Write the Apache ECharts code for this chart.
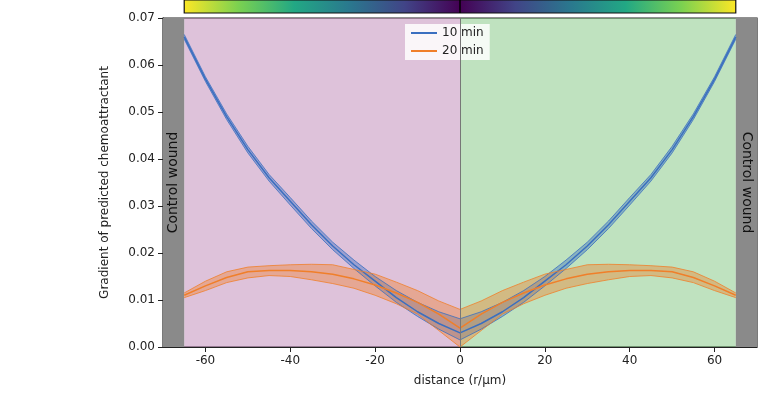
<!DOCTYPE html>
<html><head><meta charset="utf-8">
<script src="https://cdn.jsdelivr.net/npm/echarts@6/dist/echarts.min.js"></script>
<style>body{margin:0}#c{width:783px;height:400px}</style></head>
<body><div id="c"></div>
<script>
// half-profile, |x| = 0..65 step 5 (profiles are symmetric about 0)
const halfX = [0,5,10,15,20,25,30,35,40,45,50,55,60,65];
const blueMean = [0.003,0.005,0.0075,0.0105,0.014,0.0175,0.0215,0.026,0.031,0.036,0.042,0.049,0.057,0.066];
const blueLow  = [0.0015,0.0038,0.0065,0.0095,0.013,0.0167,0.0207,0.0252,0.0302,0.0353,0.0413,0.0484,0.0565,0.0655];
const blueHigh = [0.006,0.0075,0.0095,0.012,0.015,0.0185,0.0223,0.0268,0.0318,0.0367,0.0427,0.0496,0.0575,0.0665];
const orMean = [0.004,0.007,0.0095,0.0115,0.0132,0.0145,0.0155,0.016,0.0163,0.0163,0.016,0.0148,0.013,0.011];
const orLow  = [0.0,0.0035,0.007,0.0092,0.011,0.0125,0.0135,0.0143,0.015,0.0152,0.0147,0.0137,0.012,0.0105];
const orHigh = [0.008,0.0098,0.012,0.0138,0.0155,0.0165,0.0175,0.0176,0.0175,0.0173,0.017,0.016,0.014,0.0115];
const xTicks = [-60,-40,-20,0,20,40,60];

function full(h){ const l=h.slice(1).reverse(); return l.concat(h); }
const xs = full(halfX).map((v,i)=> i<halfX.length-1 ? -v : v);
function pts(h){ const f=full(h); return xs.map((x,i)=>[x,f[i]]); }

const chart = echarts.init(document.getElementById('c'));
const blueC='#3a6fc0', orC='#f07f2a';
function band(low,high,color){
  const lo=pts(low), hi=pts(high);
  return {type:'custom',silent:true,z:3,data:[0],renderItem:(params,api)=>{
    const poly=lo.map(p=>api.coord(p)).concat(hi.slice().reverse().map(p=>api.coord(p)));
    return {type:'polygon',shape:{points:poly},style:{fill:color,opacity:0.4}};
  }};
}
function ln(name,h,color,w){return {name:name,type:'line',data:pts(h),symbol:'none',lineStyle:{color:color,width:w},itemStyle:{color:color},z:4};}
const viridis=[[0,'#fde725'],[0.1,'#7ad151'],[0.2,'#22a884'],[0.3,'#2a788e'],[0.4,'#414487'],[0.5,'#440154'],[0.6,'#414487'],[0.7,'#2a788e'],[0.8,'#22a884'],[0.9,'#7ad151'],[1,'#fde725']];
chart.setOption({
  animation:false,
  grid:[{left:163,right:26,top:18,bottom:53,show:true,borderColor:'#222',borderWidth:1.2},
        {left:163,right:26,top:0,height:13}],
  legend:{data:['10 min','20 min'],orient:'vertical',left:405,top:24,itemWidth:26,itemHeight:2,itemGap:6,
    backgroundColor:'rgba(255,255,255,0.85)',padding:[3,6],textStyle:{fontFamily:'DejaVu Sans',fontSize:12,color:'#222'},icon:'rect'},
  xAxis:[{type:'value',min:-70,max:70,gridIndex:0,name:'distance (r/\u03bcm)',nameLocation:'middle',nameGap:28,
      nameTextStyle:{fontFamily:'DejaVu Sans',fontSize:12,color:'#222'},
      splitLine:{show:false},axisLine:{onZero:false,lineStyle:{color:'#222'}},
      axisTick:{show:true,customValues:xTicks,lineStyle:{color:'#222'}},
      axisLabel:{customValues:xTicks,fontFamily:'DejaVu Sans',fontSize:12,color:'#222'}},
    {type:'value',min:-70,max:70,gridIndex:1,show:false}],
  yAxis:[{type:'value',min:0,max:0.07,interval:0.01,gridIndex:0,name:'Gradient of predicted chemoattractant',
      nameLocation:'middle',nameGap:52,nameTextStyle:{fontFamily:'DejaVu Sans',fontSize:12,color:'#222'},
      splitLine:{show:false},axisLine:{show:true,onZero:false,lineStyle:{color:'#222'}},axisTick:{show:true,lineStyle:{color:'#222'}},
      axisLabel:{formatter:v=>v.toFixed(2),fontFamily:'DejaVu Sans',fontSize:12,color:'#222'}},
    {type:'value',min:0,max:1,gridIndex:1,show:false}],
  series:[
    band(blueLow,blueHigh,blueC),
    band(orLow,orHigh,orC),
    ln('10 min',blueMean,blueC,1.5), ln('bl',blueLow,blueC,0.8), ln('bh',blueHigh,blueC,0.8),
    ln('20 min',orMean,orC,1.5), ln('ol',orLow,orC,0.8), ln('oh',orHigh,orC,0.8),
    {type:'line',data:[],z:6,silent:true,markArea:{silent:true,data:[
      [{xAxis:-65,yAxis:0,itemStyle:{color:'rgba(160,80,150,0.35)'}},{xAxis:0,yAxis:0.07}],
      [{xAxis:0,yAxis:0,itemStyle:{color:'rgba(44,160,44,0.3)'}},{xAxis:65,yAxis:0.07}],
      [{xAxis:-70,yAxis:0,itemStyle:{color:'#8a8a8a'},label:{show:true,position:'inside',rotate:90,formatter:'Control wound',fontFamily:'DejaVu Sans',fontSize:14,color:'#111'}},{xAxis:-65,yAxis:0.07}],
      [{xAxis:65,yAxis:0,itemStyle:{color:'#8a8a8a'},label:{show:true,position:'inside',rotate:-90,formatter:'Control wound',fontFamily:'DejaVu Sans',fontSize:14,color:'#111'}},{xAxis:70,yAxis:0.07}]
    ]},
    markLine:{silent:true,symbol:'none',label:{show:false},lineStyle:{color:'#777',width:1,type:'solid'},data:[{xAxis:0}]}},
    {type:'line',xAxisIndex:1,yAxisIndex:1,data:[],silent:true,markArea:{silent:true,data:[
      [{xAxis:-65,yAxis:0,itemStyle:{color:new echarts.graphic.LinearGradient(0,0,1,0,viridis.map(s=>({offset:s[0],color:s[1]}))),borderColor:'#111',borderWidth:1.2}},{xAxis:65,yAxis:1}]
    ]},markLine:{silent:true,symbol:'none',label:{show:false},lineStyle:{color:'#000',width:1.5,type:'solid'},data:[{xAxis:0}]}}
  ]
});
</script></body></html>
